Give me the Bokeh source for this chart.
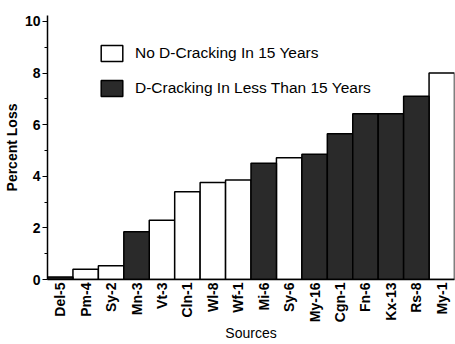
from bokeh.plotting import figure
from bokeh.models import ColumnDataSource, FactorRange, Range1d, Legend, LegendItem, FixedTicker
from bokeh.embed import file_html
from bokeh.resources import INLINE

sources = ["Del-5", "Pm-4", "Sy-2", "Mn-3", "Vt-3", "Cln-1", "Wl-8", "Wf-1",
           "Mi-6", "Sy-6", "My-16", "Cgn-1", "Fn-6", "Kx-13", "Rs-8", "My-1"]
percent_loss = [0.1, 0.4, 0.53, 1.85, 2.3, 3.4, 3.76, 3.86,
                4.5, 4.72, 4.85, 5.65, 6.42, 6.42, 7.1, 8.0]
d_cracking = [True, False, False, True, False, False, False, False,
              True, False, True, True, True, True, True, False]
labels = ["No D-Cracking In 15 Years", "D-Cracking In Less Than 15 Years"]
y_ticks = [0, 2, 4, 6, 8, 10]
y_minor = [1, 3, 5, 7, 9]

FONT = "Liberation Sans"

p = figure(width=455, height=344, output_backend="svg", toolbar_location=None,
           x_range=FactorRange(factors=sources, range_padding=0),
           y_range=Range1d(0, 10.23),
           min_border_left=44, min_border_right=1, min_border_top=15, min_border_bottom=63)

src_no = ColumnDataSource(dict(x=[s for s, d in zip(sources, d_cracking) if not d],
                               top=[v for v, d in zip(percent_loss, d_cracking) if not d]))
src_yes = ColumnDataSource(dict(x=[s for s, d in zip(sources, d_cracking) if d],
                                top=[v for v, d in zip(percent_loss, d_cracking) if d]))

r_no = p.vbar(x="x", top="top", bottom=0, width=1.0, source=src_no,
              fill_color="white", line_color="black", line_width=1.5)
r_yes = p.vbar(x="x", top="top", bottom=0, width=1.0, source=src_yes,
               fill_color="#2a2a2a", line_color="black", line_width=1.5)

legend = Legend(items=[LegendItem(label=labels[0], renderers=[r_no]),
                       LegendItem(label=labels[1], renderers=[r_yes])],
                location=(51, 181), orientation="vertical",
                glyph_width=27, glyph_height=20, label_height=20, spacing=15,
                label_standoff=10, padding=0, margin=0,
                border_line_color=None, background_fill_alpha=0,
                label_text_font=FONT, label_text_font_size="15.5px",
                label_text_color="black")
p.add_layout(legend, "center")

p.xgrid.visible = False
p.ygrid.visible = False
p.outline_line_color = None

p.yaxis.ticker = FixedTicker(ticks=y_ticks, minor_ticks=y_minor)
p.yaxis.axis_label = "Percent Loss"
p.yaxis.axis_label_text_font = FONT
p.yaxis.axis_label_text_font_style = "bold"
p.yaxis.axis_label_text_font_size = "14px"
p.yaxis.axis_label_text_color = "black"
p.yaxis.axis_label_standoff = 2
p.yaxis.major_label_text_font = FONT
p.yaxis.major_label_text_font_size = "14px"
p.yaxis.major_label_text_font_style = "bold"
p.yaxis.major_label_text_color = "black"
p.yaxis.major_label_standoff = 2
p.yaxis.major_tick_in = 0
p.yaxis.major_tick_out = 5
p.yaxis.minor_tick_in = 0
p.yaxis.minor_tick_out = 3
p.yaxis.axis_line_width = 1.5
p.yaxis.axis_line_color = "black"

p.xaxis.axis_label = "Sources"
p.xaxis.axis_label_text_font = FONT
p.xaxis.axis_label_text_font_style = "normal"
p.xaxis.axis_label_text_font_size = "14px"
p.xaxis.axis_label_text_color = "black"
p.xaxis.axis_label_standoff = 0
p.xaxis.major_label_orientation = 3.14159265 / 2
p.xaxis.major_label_text_font = FONT
p.xaxis.major_label_text_font_size = "14px"
p.xaxis.major_label_text_font_style = "bold"
p.xaxis.major_label_text_color = "black"
p.xaxis.major_label_standoff = 3
p.xaxis.major_tick_in = 0
p.xaxis.major_tick_out = 0
p.xaxis.minor_tick_in = 0
p.xaxis.minor_tick_out = 0
p.xaxis.major_tick_line_color = None
p.xaxis.minor_tick_line_color = None
p.xaxis.axis_line_width = 1.5
p.xaxis.axis_line_color = "black"

open("out.html", "w").write(file_html(p, INLINE))
